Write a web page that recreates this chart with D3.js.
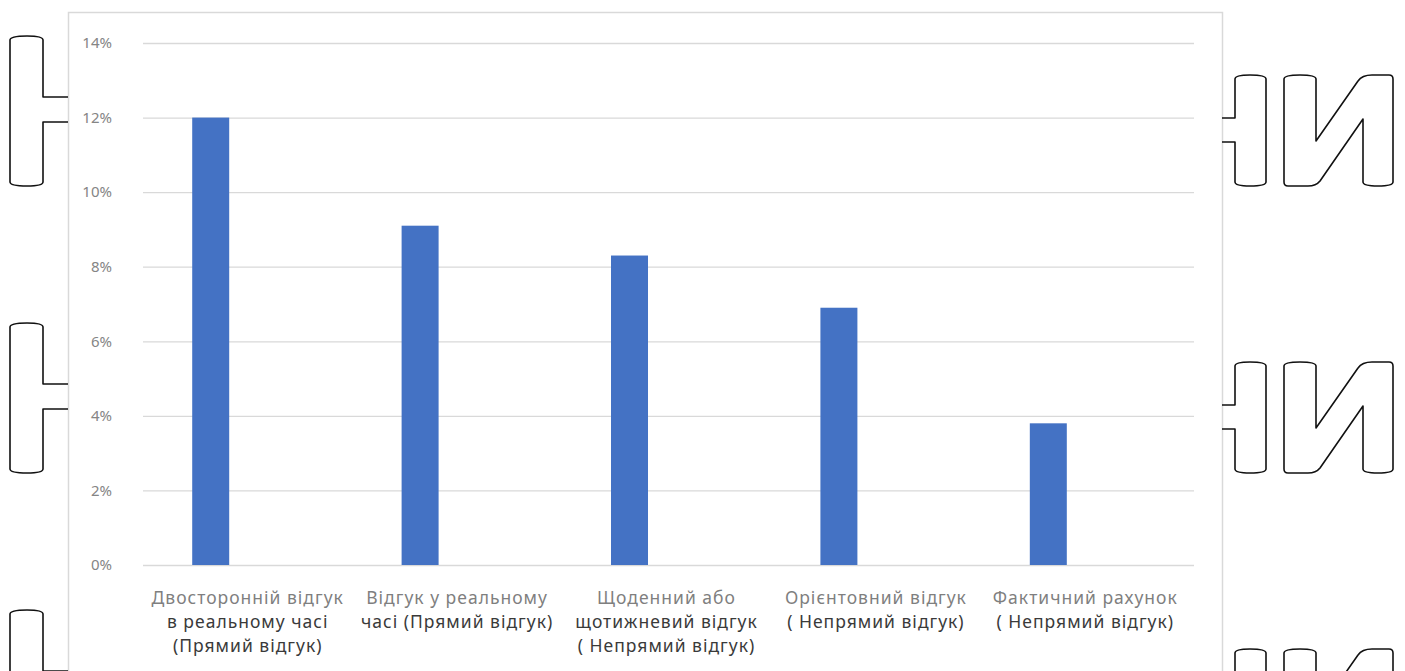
<!DOCTYPE html>
<html>
<head>
<meta charset="utf-8">
<script src="https://cdn.jsdelivr.net/npm/d3@7"></script>
<style>
  body { margin: 0; background: #fff; }
  svg { display: block; }
</style>
</head>
<body>
<div id="chart"></div>
<script>
// data
const categories = [
  ["Двосторонній відгук", "в реальному часі", "(Прямий відгук)"],
  ["Відгук у реальному", "часі (Прямий відгук)"],
  ["Щоденний або", "щотижневий відгук", "( Непрямий відгук)"],
  ["Орієнтовний відгук", "( Непрямий відгук)"],
  ["Фактичний рахунок", "( Непрямий відгук)"]
];
const values = [0.12, 0.091, 0.083, 0.069, 0.038];
// the bars sit in the first of three slots per category (the other slots are empty)
const slots = ["a", "b", "c"];
const yTicks = [0, 0.02, 0.04, 0.06, 0.08, 0.10, 0.12, 0.14];

const width = 1405, height = 671;
const plot = { left: 143, right: 1190, top: 43, bottom: 565 };

const svg = d3.select("#chart").append("svg")
  .attr("width", width)
  .attr("height", height);

// chart frame
svg.append("path")
  .attr("d", "M68.5,671 V12.5 H1222.5 V671")
  .attr("fill", "none")
  .attr("stroke", "#d9d9d9")
  .attr("stroke-width", 1.5);

const xScale = d3.scaleBand()
  .domain(d3.range(categories.length))
  .range([plot.left, plot.right])
  .paddingInner(0.47)
  .paddingOuter(0.235);

const xSlot = d3.scaleBand()
  .domain(slots)
  .range([0, xScale.bandwidth()]);

const yScale = d3.scaleLinear()
  .domain([0, 0.14])
  .range([plot.bottom, plot.top]);

// gridlines + y labels
const yAxis = svg.append("g")
  .attr("transform", `translate(${plot.left},0)`)
  .call(d3.axisLeft(yScale)
    .tickValues(yTicks)
    .tickFormat(d3.format(".0%"))
    .tickSize(-(plot.right - plot.left + 4))
    .tickPadding(31));
yAxis.select(".domain").remove();
yAxis.selectAll(".tick line")
  .attr("stroke", "#d9d9d9")
  .attr("stroke-width", 1.3);
yAxis.selectAll(".tick text")
  .attr("fill", "#858585")
  .attr("font-family", "'Noto Sans', sans-serif")
  .attr("font-size", 15);

// bars
svg.append("g")
  .selectAll("rect")
  .data(values)
  .enter().append("rect")
  .attr("x", (d, i) => xScale(i) + xSlot("a"))
  .attr("y", d => yScale(d))
  .attr("width", xSlot.bandwidth())
  .attr("height", d => plot.bottom - yScale(d))
  .attr("fill", "#4472c4");

// category labels, one text per line
const labels = svg.append("g")
  .attr("font-family", "'Noto Sans', sans-serif")
  .attr("font-size", 17.5)
  .attr("letter-spacing", 1)
  .attr("text-anchor", "middle");
categories.forEach((lines, i) => {
  const cx = xScale(i) + xScale.bandwidth() / 2;
  lines.forEach((line, j) => {
    labels.append("text")
      .attr("x", cx)
      .attr("y", 604 + j * 24)
      .attr("fill", j === 0 ? "#7f7f7f" : "#3a3a3a")
      .text(line);
  });
});

// outlined letter fragments at the page edges (decoration in the picture)
const deco = svg.append("g")
  .attr("fill", "none")
  .attr("stroke", "#111")
  .attr("stroke-width", 1.6)
  .attr("stroke-linejoin", "round");
const period = 287;
[0, 1, 2].forEach(k => {
  const o = k * period;
  deco.append("path")
    .attr("transform", `translate(0,${o})`)
    .attr("d", "M68,97 H43 V40 Q43,36 27,36 Q10,36 10,40 V182 Q10,186 27,186 Q43,186 43,182 V122 H68");
  deco.append("path")
    .attr("transform", `translate(0,${o})`)
    .attr("d", "M1222,118 H1235 V79 Q1235,75 1250,75 Q1266,75 1266,79 V182 Q1266,186 1250,186 Q1235,186 1235,182 V142 H1222");
  deco.append("path")
    .attr("transform", `translate(0,${o})`)
    .attr("d", "M1284,79 Q1284,75 1300,75 Q1316,75 1316,79 V141 L1358,81 Q1362,75 1372,75 H1389 Q1393,75 1393,79 V182 Q1393,186 1378,186 Q1363,186 1363,182 V119 L1320,181 Q1316,186 1308,186 H1288 Q1284,186 1284,182 Z");
});
</script>
</body>
</html>
